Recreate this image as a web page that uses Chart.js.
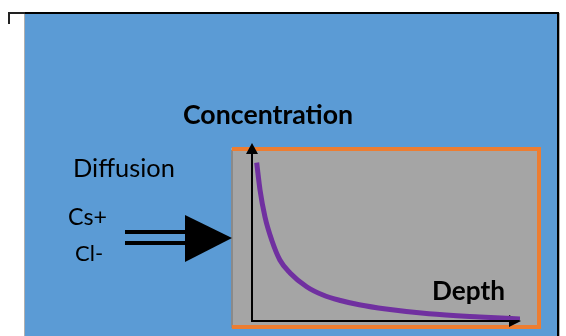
<!DOCTYPE html>
<html>
<head>
<meta charset="utf-8">
<script src="https://cdn.jsdelivr.net/npm/chart.js@4.4.1/dist/chart.umd.min.js"></script>
<style>
  html, body { margin: 0; padding: 0; background: #fff; }
  #wrap { width: 566px; height: 336px; position: relative; }
</style>
</head>
<body>
<div id="wrap"><canvas id="chart"></canvas></div>
<script>
// Concentration profile (depth 0..100, concentration 0..100)
const depth = [1.75, 3.0, 4.85, 7.35, 10.4, 14.2, 20.4, 26.5, 33, 40, 50, 66, 85, 100];
const concentration = [88.9, 73.4, 58.2, 45.2, 33.9, 26.6, 18.8, 14.1, 11.0, 8.6, 6.2, 3.5, 1.7, 0.6];

const axisTitleY = 'Concentration';
const axisTitleX = 'Depth';
const sideTitle = 'Diffusion';
const ions = ['Cs+', 'Cl-'];

const FONT = 'Lato, Carlito, Calibri, "Liberation Sans", sans-serif';

// draw text stretched to a given width (left aligned, alphabetic baseline)
function fitText(ctx, text, weight, x, baseline, width) {
    let size = 20;
    ctx.font = weight + ' ' + size + 'px ' + FONT;
    size = size * width / ctx.measureText(text).width;
    ctx.font = weight + ' ' + size.toFixed(1) + 'px ' + FONT;
    ctx.fillStyle = '#000';
    ctx.textAlign = 'left';
    ctx.textBaseline = 'alphabetic';
    ctx.fillText(text, x, baseline);
}

const diagramPlugin = {
    id: 'diagram',
    beforeDraw(chart) {
        const ctx = chart.ctx;
        const area = chart.chartArea;
        ctx.save();
        ctx.fillStyle = '#fff';
        ctx.fillRect(0, 0, chart.width, chart.height);

        // blue panel
        ctx.fillStyle = '#5B9BD5';
        ctx.fillRect(25, 13, 532, 323);
        ctx.fillStyle = '#000';
        ctx.fillRect(25, 12, 534, 2);
        ctx.fillRect(557, 12, 2, 324);
        ctx.fillStyle = '#b0b0b0';
        ctx.fillRect(559, 13, 1, 323);
        ctx.fillRect(24, 14, 1, 322);
        // corner bracket
        ctx.fillStyle = '#222';
        ctx.fillRect(8, 12, 17, 2);
        ctx.fillRect(8, 12, 2, 12);

        // gray box with orange frame
        const bx = area.left - 21, by = area.top + 5, br = area.right + 21, bb = area.bottom + 8;
        ctx.fillStyle = '#A5A5A5';
        ctx.fillRect(bx, by, br - bx, bb - by);
        ctx.fillStyle = '#8a8a8a';
        ctx.fillRect(bx, by + 2, 2, bb - by - 2);
        ctx.fillStyle = '#ED7D31';
        ctx.fillRect(bx + 1, by - 1, br - bx - 1, 4);
        ctx.fillRect(br - 4, by - 1, 4, bb - by + 1);
        ctx.fillRect(bx + 1, bb - 3, br - bx - 1, 4);

        // axes with arrow heads
        ctx.strokeStyle = '#000';
        ctx.lineWidth = 2;
        ctx.beginPath();
        ctx.moveTo(area.left, area.top + 8);
        ctx.lineTo(area.left, area.bottom + 1);
        ctx.lineTo(area.right - 8, area.bottom + 1);
        ctx.stroke();
        ctx.fillStyle = '#000';
        ctx.beginPath();
        ctx.moveTo(area.left, area.top);
        ctx.lineTo(area.left - 6, area.top + 11);
        ctx.lineTo(area.left + 6, area.top + 11);
        ctx.closePath();
        ctx.fill();
        ctx.beginPath();
        ctx.moveTo(area.right + 1, area.bottom + 1);
        ctx.lineTo(area.right - 11, area.bottom - 5);
        ctx.lineTo(area.right - 11, area.bottom + 7);
        ctx.closePath();
        ctx.fill();

        // incoming double arrow
        ctx.fillRect(125, 230, 61, 4);
        ctx.fillRect(125, 241, 61, 4);
        ctx.beginPath();
        ctx.moveTo(185, 215);
        ctx.lineTo(232, 238);
        ctx.lineTo(185, 262);
        ctx.closePath();
        ctx.fill();

        // labels
        fitText(ctx, axisTitleY, 'bold', 183, 124, 170);
        fitText(ctx, axisTitleX, 'bold', 432, 300, 73);
        fitText(ctx, sideTitle, 'normal', 73, 177, 102);
        fitText(ctx, ions[0], 'normal', 68, 225, 39);
        fitText(ctx, ions[1], 'normal', 75, 261, 28);
        ctx.restore();
    }
};

new Chart(document.getElementById('chart'), {
    type: 'line',
    data: {
        datasets: [{
            data: depth.map((d, i) => ({ x: d, y: concentration[i] })),
            borderColor: '#7030A0',
            borderWidth: 5,
            pointRadius: 0,
            fill: false,
            cubicInterpolationMode: 'monotone',
            borderCapStyle: 'butt'
        }]
    },
    options: {
        responsive: true,
        maintainAspectRatio: false,
        animation: false,
        layout: { padding: { left: 252, right: 46, top: 143, bottom: 16 } },
        plugins: { legend: { display: false }, tooltip: { enabled: false } },
        scales: {
            x: { type: 'linear', min: 0, max: 100, display: false },
            y: { type: 'linear', min: 0, max: 100, display: false }
        }
    },
    plugins: [diagramPlugin]
});
</script>
</body>
</html>
